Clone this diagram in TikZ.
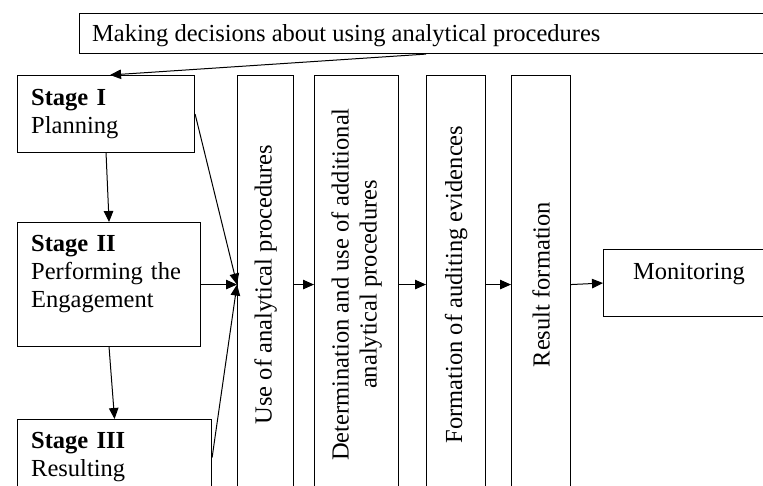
\documentclass[tikz,border=0pt]{standalone}
\usepackage{fontspec}
\setmainfont{Liberation Serif}
\usetikzlibrary{arrows.meta,calc}
\begin{document}
\begin{tikzpicture}[x=1pt,y=-1pt,
  box/.style={draw,line width=1.1pt,inner sep=0pt,anchor=north west},
  txt/.style={font=\fontsize{24.5}{28}\selectfont,inner sep=0pt},
  arr/.style={line width=1pt,-{Triangle[length=11pt,width=9.5pt]}},
]
\useasboundingbox (0,0) rectangle (763,486);
\clip (0,0) rectangle (763,486);
% boxes
\node[box,minimum width=700pt,minimum height=40pt] (top) at (79,13) {};
\node[box,minimum width=177pt,minimum height=77pt] (s1) at (17,75) {};
\node[box,minimum width=183pt,minimum height=124pt] (s2) at (17,222) {};
\node[box,minimum width=194pt,minimum height=76pt] (s3) at (17,419) {};
\node[box,minimum width=56pt,minimum height=418pt] (b1) at (237,75) {};
\node[box,minimum width=84pt,minimum height=418pt] (b2) at (314,75) {};
\node[box,minimum width=59pt,minimum height=418pt] (b3) at (426,75) {};
\node[box,minimum width=59pt,minimum height=418pt] (b4) at (511,75) {};
\node[box,minimum width=180pt,minimum height=67pt] (mon) at (603,249) {};
% texts
\node[txt,anchor=base west] (toptxt) at (92,41.5) {Making decisions about using analytical procedures};
\node[txt,anchor=base west,text width=170pt,align=left] (s1t) at (31,106) {\textbf{Stage I}\\Planning};
\node[txt,anchor=base west,text width=170pt,align=left] (s2t) at (31,252) {\textbf{Stage II}\\Performing the\\Engagement};
\node[txt,anchor=base west,text width=180pt,align=left] (s3t) at (31,448) {\textbf{Stage III}\\Resulting};
\node[txt,rotate=90] (b1t) at (b1.center) {Use of analytical procedures};
\node[txt,rotate=90,align=center] (b2t) at (b2.center) {Determination and use of additional\\analytical procedures};
\node[txt,rotate=90] (b3t) at (b3.center) {Formation of auditing evidences};
\node[txt,rotate=90] (b4t) at (b4.center) {Result formation};
\node[txt,anchor=base west] (mont) at (633,280) {Monitoring};
% arrows
\draw[arr] (top.south -| b3.west) -- ([xshift=4pt]s1.north);
\draw[arr] (s1.south) -- (s2.north);
\draw[arr] (s2.south) -- (s3.north);
\draw[arr] (s1.east) -- (b1.west);
\draw[arr] (s2.east) -- (b1.west);
\draw[arr] (s3.east) -- (b1.west);
\draw[arr] (b1.east) -- (b2.west);
\draw[arr] (b2.east) -- (b3.west);
\draw[arr] (b3.east) -- (b4.west);
\draw[arr] (b4.east) -- (mon.west);
\end{tikzpicture}
\end{document}
